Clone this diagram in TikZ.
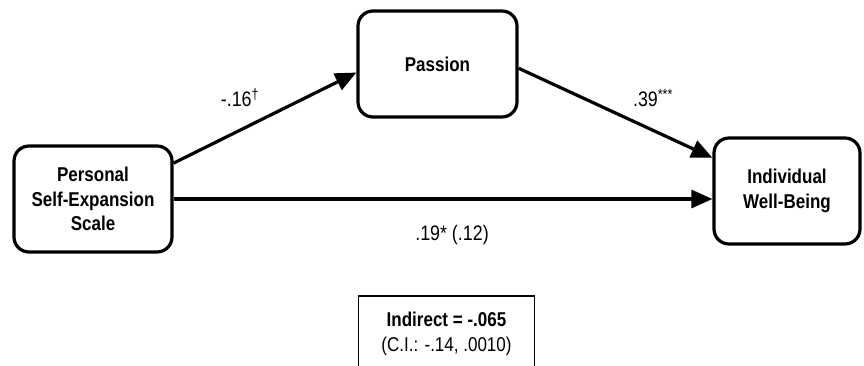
\documentclass[tikz,border=0pt]{standalone}
\usepackage{fontspec}
\setmainfont[FakeStretch=0.85]{Liberation Sans}
\usetikzlibrary{arrows.meta}

\begin{document}
\begin{tikzpicture}[x=1pt, y=-1pt, line width=3.2pt, black,
    varbox/.style={draw, rounded corners=15pt, align=center, inner sep=0pt,
        font=\bfseries\fontsize{20}{24.5}\selectfont},
    pathline/.style={-{Triangle[length=21pt,width=18pt]}, line width=3.2pt},
    coef/.style={font=\fontsize{21}{24}\selectfont}]

    \useasboundingbox (0,0) rectangle (864,366);
    \clip (0,0) rectangle (864,366);

    %variables
    \node[varbox, minimum width=158pt, minimum height=106pt] (pses) at (93,199)
    {Personal\\Self-Expansion\\Scale};
    \node[varbox, minimum width=159pt, minimum height=106pt] (pas) at (437.5,64)
    {Passion};
    \node[varbox, minimum width=146pt, minimum height=106pt] (iwb) at (787,191)
    {Individual\\Well-Being};

    %indirect effect
    \node[draw, line width=1.8pt, minimum width=176pt, minimum height=76pt, align=center,
        font=\fontsize{20}{25}\selectfont] (ind) at (446.5,334)
    {\textbf{Indirect = -.065}\\(C.I.: -.14, .0010)};

    %paths
    \draw[pathline] (pses.24) -- (pas.186);
    \draw[pathline] (pas.-3) -- (iwb.156);
    \draw[pathline] (pses.east) -- (pses.east -| iwb.west);

    %coefficients
    \node[coef] (a) at (240,98) {-.16\textsuperscript{\textdagger}};
    \node[coef] (b) at (653,98) {.39\textsuperscript{***}};
    \node[coef] (c) at (452,235) {.19* (.12)};

\end{tikzpicture}
\end{document}
